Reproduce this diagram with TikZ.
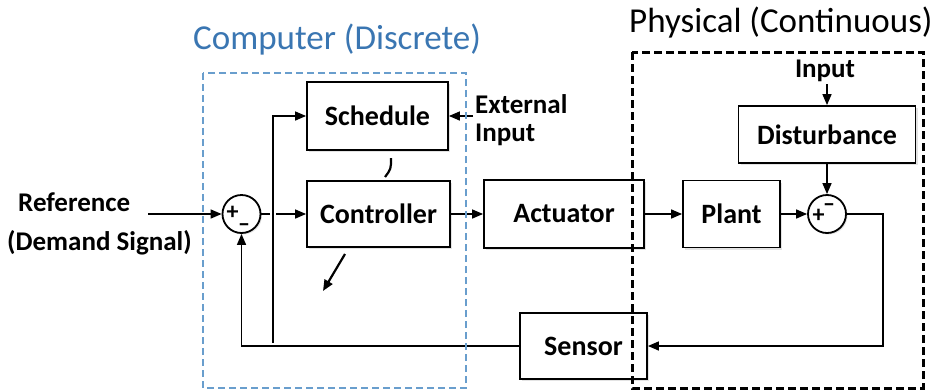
\documentclass[tikz,border=0pt]{standalone}
\usepackage{fontspec}
\setmainfont{Carlito}
\usetikzlibrary{arrows.meta,shadows,calc}
\definecolor{compblue}{RGB}{58,118,178}
\definecolor{dashblue}{RGB}{105,158,205}

\begin{document}
\begin{tikzpicture}[x=1pt,y=-1pt,
  blk/.style={draw, line width=1.8pt, fill=white, inner sep=0pt,
    font=\fontsize{28}{30}\selectfont\bfseries,
    drop shadow={shadow xshift=2pt, shadow yshift=-2pt, opacity=0.22}},
  sum/.style={circle, draw, line width=1.8pt, fill=white, minimum size=38pt, inner sep=0pt,
    drop shadow={shadow xshift=1.5pt, shadow yshift=-1.5pt, opacity=0.22}},
  sign/.style={inner sep=0pt, font=\fontsize{24}{26}\selectfont\bfseries},
  lbl/.style={inner sep=0pt, anchor=base west, font=\fontsize{27}{30}\selectfont\bfseries},
  title/.style={inner sep=0pt, anchor=base west, font=\fontsize{35}{40}\selectfont},
  wire/.style={line width=1.5pt},
  arr/.style={wire, -{Triangle[length=11pt,width=9pt]}},
  tickmark/.style={line width=2.2pt}]

\useasboundingbox (0,0) rectangle (936,391);
\fill[white] (0,0) rectangle (936,391);

% titles
\node[title, text=compblue] (tcomp) at (193,49) {Computer (Discrete)};
\node[title] (tphys) at (629,32) {Physical (Continuous)};

% blocks
\node[blk, minimum width=141pt, minimum height=68pt] (sched) at (377.5,116) {Schedule};
\node[blk, minimum width=143pt, minimum height=66pt] (ctrl) at (378.5,214) {Controller};
\node[blk, minimum width=160pt, minimum height=68pt] (act) at (564,214) {Actuator};
\node[blk, minimum width=97pt, minimum height=67pt] (plant) at (731.5,214) {Plant};
\node[blk, minimum width=177pt, minimum height=57pt] (dist) at (827,134.5) {Disturbance};
\node[blk, minimum width=127pt, minimum height=66pt] (sens) at (583.5,346) {Sensor};

% summing junctions
\node[sum] (s1) at (241.5,214) {};
\node[sum] (s2) at (827,214) {};
\node[sign] (s1p) at (232.5,213) {+};
\node[sign] (s1m) at (244,228) {--};
\node[sign] (s2m) at (829,208) {--};
\node[sign] (s2p) at (818.5,216) {+};

% free labels
\node[lbl] (lref) at (18,211) {Reference};
\node[lbl] (ldem) at (7,250) {(Demand Signal)};
\node[lbl] (lext1) at (475,113) {External};
\node[lbl] (lext2) at (475,141) {Input};
\node[lbl, anchor=base] (ldin) at (825,77) {Input};

% signal path
\coordinate (refin) at (148,214);
\coordinate (tapx) at (273,214);
\coordinate (tapb) at (273,343);
\coordinate (extin) at (473,116);
\coordinate (din) at (827,84);
\coordinate (fbr) at (883,346);

\draw[arr] (refin) -- (s1);
\draw[wire] (s1) -- ($(tapx)+(-3,0)$);
\draw[arr] ($(tapx)+(3,0)$) -- (ctrl);
\draw[arr] (tapb) |- (sched.west);
\draw[arr] (extin) -- (sched.east);
\draw[arr] (ctrl) -- (act);
\draw[arr] (act) -- (plant);
\draw[arr] (plant) -- (s2);
\draw[arr] (din) -- (dist.north);
\draw[arr] (dist.south) -- (s2.north);
\draw[arr] (s2.east) -| (fbr) -- (sens.east);
\draw[arr] (sens.west) -| (s1.south);

% small marks around the controller
\draw[tickmark] (391,158) .. controls (391,169) .. (385,177);
\draw[tickmark, -{Triangle[length=11pt,width=9pt]}] (345,254) -- (323,291);

% domain boundaries
\draw[dashblue, line width=2.6pt, dash pattern=on 7pt off 4pt] (203,73) rectangle (466,388);
\draw[black, line width=3pt, dash pattern=on 8pt off 4pt] (632,52) rectangle (923,388);
\end{tikzpicture}
\end{document}
